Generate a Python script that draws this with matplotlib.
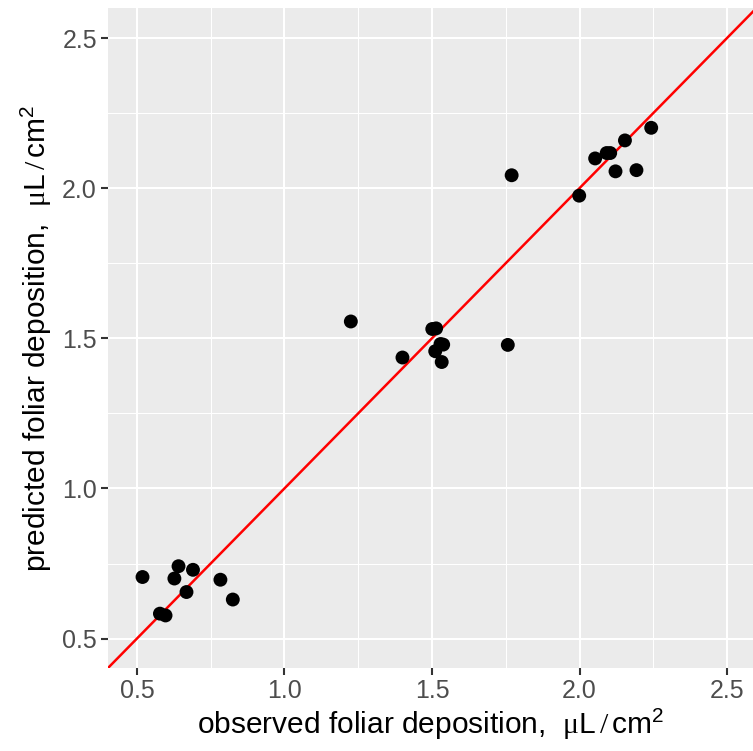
import matplotlib
matplotlib.use('Agg')
from matplotlib import pyplot as plt
from matplotlib.ticker import MultipleLocator

observed = [0.519, 0.641, 0.690, 0.627, 0.783, 0.668, 0.825, 0.578, 0.597,
            1.225, 1.400, 1.501, 1.514, 1.529, 1.538, 1.511, 1.533, 1.757, 1.770,
            1.999, 2.053, 2.092, 2.104, 2.154, 2.243, 2.122, 2.193]
predicted = [0.705, 0.741, 0.729, 0.700, 0.696, 0.655, 0.630, 0.583, 0.577,
             1.556, 1.436, 1.531, 1.533, 1.481, 1.479, 1.457, 1.421, 1.478, 2.043,
             1.975, 2.099, 2.117, 2.117, 2.159, 2.201, 2.056, 2.060]
ticks = [0.5, 1.0, 1.5, 2.0, 2.5]

plt.rcParams['font.family'] = ['Liberation Sans', 'DejaVu Sans']
plt.rcParams['mathtext.fontset'] = 'custom'
plt.rcParams['mathtext.rm'] = 'Liberation Serif'
plt.rcParams['mathtext.sf'] = 'Liberation Sans'
plt.rcParams['mathtext.it'] = 'Liberation Sans:italic'

unit = r'$\mathrm{μ}\mathsf{L}\,/\,\mathsf{cm}^{\mathsf{2}}$'

fig = plt.figure(figsize=(7.53, 7.51), dpi=100)
ax = fig.add_axes([108 / 753, 83 / 751, 1 - 108 / 753, 660 / 751])
ax.set_facecolor('#EBEBEB')
for s in ax.spines.values():
    s.set_visible(False)

ax.set_xlim(0.402, 2.588)
ax.set_ylim(0.402, 2.6)
ax.set_xticks(ticks)
ax.set_yticks(ticks)
ax.xaxis.set_minor_locator(MultipleLocator(0.25))
ax.yaxis.set_minor_locator(MultipleLocator(0.25))
ax.grid(which='major', color='white', linewidth=1.5)
ax.grid(which='minor', color='white', linewidth=0.75)
ax.set_axisbelow(True)
ax.tick_params(which='major', length=5, width=1.5, color='#333333',
               labelcolor='#4D4D4D', labelsize=18, pad=3)
ax.tick_params(which='minor', length=0)

ax.plot([0, 3], [0, 3], color='red', linewidth=1.8, zorder=2)
ax.scatter(observed, predicted, s=100, color='black', edgecolors='none', zorder=3)

ax.set_xlabel('observed foliar deposition,  ' + unit, fontsize=21.5, labelpad=3)
ax.set_ylabel('predicted foliar deposition,  ' + unit, fontsize=21.5, labelpad=6)

fig.savefig('out.png', dpi=100)
